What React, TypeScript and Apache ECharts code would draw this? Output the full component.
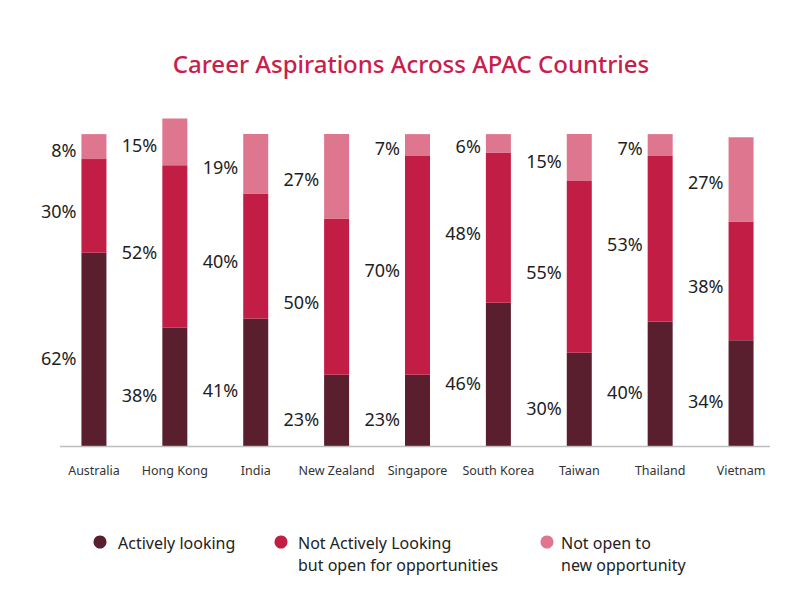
import React, { useEffect, useRef } from "react";
import * as echarts from "echarts";

const countries = ["Australia", "Hong Kong", "India", "New Zealand", "Singapore", "South Korea", "Taiwan", "Thailand", "Vietnam"];
const activelyLooking = [62, 38, 41, 23, 23, 46, 30, 40, 34];
const notActivelyOpen = [30, 52, 40, 50, 70, 48, 55, 53, 38];
const notOpen = [8, 15, 19, 27, 7, 6, 15, 7, 27];
const seriesNames = [
  "Actively looking",
  "Not Actively Looking\nbut open for opportunities",
  "Not open to\nnew opportunity",
];
const colors = ["#5a1f2e", "#c21d44", "#df7690"];

export default function App() {
  const ref = useRef<HTMLDivElement>(null);
  useEffect(() => {
    if (!ref.current) return;
    const chart = echarts.init(ref.current, undefined, { renderer: "svg" });
    const font = "'Noto Sans', sans-serif";
    const values = [activelyLooking, notActivelyOpen, notOpen];
    const labelOffsets = [[0, 8], [0, 5], [0, 3]];
    const legendX = [100, 281, 547];
    const legendTextGap = [18, 17, 14];
    const legendGraphics: any[] = [];
    seriesNames.forEach((n, i) => {
      legendGraphics.push({
        type: "circle",
        shape: { cx: legendX[i], cy: 542, r: 6.5 },
        style: { fill: colors[i] },
      });
      n.split("\n").forEach((line, j) => {
        legendGraphics.push({
          type: "text",
          x: legendX[i] + legendTextGap[i],
          y: 542.5 + j * 22,
          style: {
            text: line,
            fill: "#222",
            fontSize: 16,
            fontFamily: font,
            verticalAlign: "middle",
            align: "left",
          },
        });
      });
    });
    chart.setOption({
      animation: false,
      backgroundColor: "#ffffff",
      title: {
        text: "Career Aspirations Across APAC Countries",
        left: 406,
        textAlign: "center",
        top: 46,
        textStyle: { color: "#c8204c", fontSize: 24, fontWeight: 500, fontFamily: font },
      },
      grid: { left: 53.5, right: 17.5, top: 118.5, height: 328, containLabel: false },
      xAxis: {
        type: "category",
        data: countries,
        axisLine: { show: false },
        axisTick: { show: false },
        axisLabel: { color: "#333", fontSize: 12.5, fontFamily: font, margin: 17, interval: 0 },
      },
      yAxis: { type: "value", min: 0, max: 105, show: false, splitLine: { show: false } },
      graphic: [
        {
          type: "line",
          shape: { x1: 60, y1: 446.5, x2: 770, y2: 446.5 },
          style: { stroke: "#bdbdbd", lineWidth: 1.5 },
          z: 10,
        },
        ...legendGraphics,
      ],
      series: seriesNames.map((n, i) => ({
        name: n,
        type: "bar",
        stack: "total",
        barWidth: 25,
        data: values[i],
        itemStyle: { color: colors[i] },
        label: {
          show: true,
          position: "left",
          distance: 5,
          offset: labelOffsets[i],
          formatter: "{c}%",
          color: "#1e1e1e",
          fontSize: 18,
          fontFamily: font,
        },
      })),
    });
    return () => chart.dispose();
  }, []);
  return <div ref={ref} style={{ position: "fixed", left: 0, top: 0, width: 799, height: 594 }} />;
}
